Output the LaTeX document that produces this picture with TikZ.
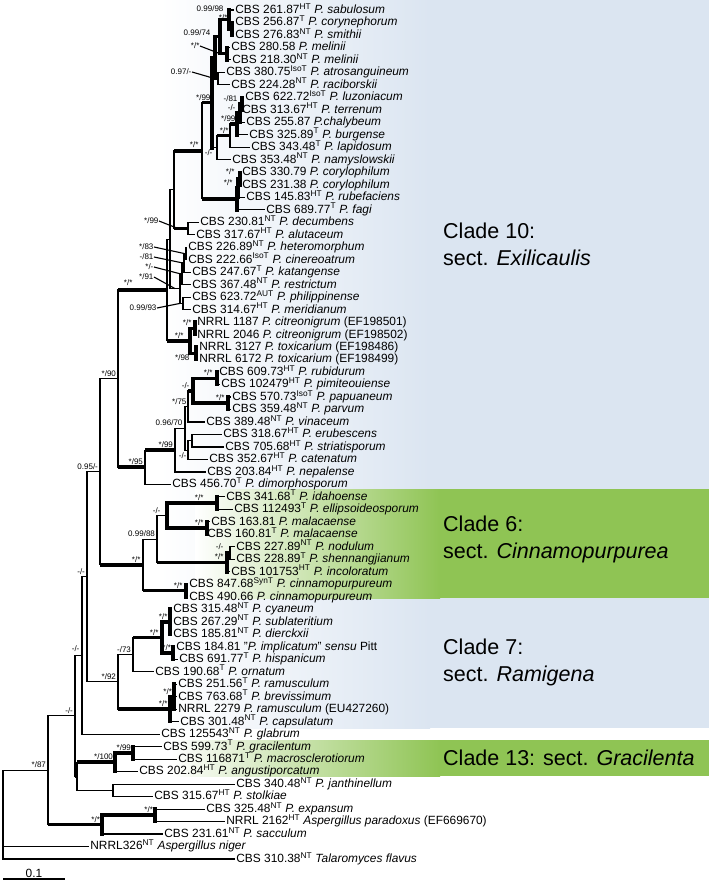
\documentclass[tikz,border=0pt]{standalone}
\usepackage{fontspec}
\setmainfont{Liberation Sans}
\usetikzlibrary{calc}
\definecolor{bl}{RGB}{219,229,241}
\definecolor{gr}{RGB}{143,196,84}
\newcommand\spx[1]{\textsuperscript{#1}}
\newcommand\tleaf[3]{\node[leaf] (L#1) at (#2,{10+(#1-1)*12.485}) {#3};}
\newcommand\tnode[5][vbr]{%
  \path let \p1=(#4), \p2=(#5) in coordinate (#2) at (#3bp,{0.5*\y1+0.5*\y2});%
  \draw[#1] (#2 |- #4) -- (#2 |- #5);}
\newcommand\tedge[3][hbr]{\draw[#1] (#2 |- #3) -- (#3);}
\newcommand\tsup[3][]{\node[sup,anchor=south east,#1] (s-#2) at ($(#2)+(-1.5,-1.5)$) {#3};}
\newcommand\tsupat[4][south east]{\node[sup,anchor=#1] (s-#2) at (#4) {#3};}
\newcommand\tlead[4]{\node[sup,anchor=east] (s-#1) at (#3) {#2}; \draw[ldr] (s-#1.east) -- #4;}
\begin{document}
\begin{tikzpicture}[x=1bp,y=-1bp,
  leaf/.style={anchor=west, inner sep=1.2bp, text height=9.2bp, text depth=2.4bp, font=\fontsize{11.9bp}{13bp}\selectfont},
  sup/.style={inner sep=0.4bp, text height=5.8bp, text depth=0.4bp, font=\fontsize{8bp}{9bp}\selectfont},
  vbr/.style={line width=1.1bp, line cap=rect},
  vthk/.style={line width=3.6bp, line cap=rect},
  hbr/.style={line width=1.1bp},
  hthk/.style={line width=3.6bp},
  ldr/.style={line width=1.1bp},
  clade/.style={anchor=base west, inner sep=0pt, font=\fontsize{21.5bp}{24bp}\selectfont}]
\useasboundingbox (0,0) rectangle (711,884);
% backgrounds
\shade[left color=white,right color=bl] (160,0) rectangle (430,728);
\fill[bl] (430,0) rectangle (709,728);
\shade[left color=white,right color=gr] (195,489) rectangle (440,598);
\fill[gr] (440,489) rectangle (709,598);
\shade[left color=white,right color=gr] (170,740) rectangle (440,776);
\fill[gr] (440,740) rectangle (709,776);
% clade names
\node[clade] (c10a) at (443,238) {Clade 10:};
\node[clade] (c10b) at (443,265) {sect. \textit{Exilicaulis}};
\node[clade] (c6a) at (443,531) {Clade 6:};
\node[clade] (c6b) at (443,558) {sect. \textit{Cinnamopurpurea}};
\node[clade] (c7a) at (443,654) {Clade 7:};
\node[clade] (c7b) at (443,681) {sect. \textit{Ramigena}};
\node[clade] (c13) at (443,765) {Clade 13: sect. \textit{Gracilenta}};
% leaves
\tleaf{1}{234}{CBS 261.87\spx{HT} \textit{P. sabulosum}}
\tleaf{2}{234}{CBS 256.87\spx{T} \textit{P. corynephorum}}
\tleaf{3}{234}{CBS 276.83\spx{NT} \textit{P. smithii}}
\tleaf{4}{230}{CBS 280.58 \textit{P. melinii}}
\tleaf{5}{231}{CBS 218.30\spx{NT} \textit{P. melinii}}
\tleaf{6}{225}{CBS 380.75\spx{IsoT} \textit{P. atrosanguineum}}
\tleaf{7}{230}{CBS 224.28\spx{NT} \textit{P. raciborskii}}
\tleaf{8}{244}{CBS 622.72\spx{IsoT} \textit{P. luzoniacum}}
\tleaf{9}{241}{CBS 313.67\spx{HT} \textit{P. terrenum}}
\tleaf{10}{245}{CBS 255.87 \textit{P.chalybeum}}
\tleaf{11}{248}{CBS 325.89\spx{T} \textit{P. burgense}}
\tleaf{12}{250}{CBS 343.48\spx{T} \textit{P. lapidosum}}
\tleaf{13}{231}{CBS 353.48\spx{NT} \textit{P. namyslowskii}}
\tleaf{14}{241}{CBS 330.79 \textit{P. corylophilum}}
\tleaf{15}{241}{CBS 231.38 \textit{P. corylophilum}}
\tleaf{16}{245}{CBS 145.83\spx{HT} \textit{P. rubefaciens}}
\tleaf{17}{265}{CBS 689.77\spx{T} \textit{P. fagi}}
\tleaf{18}{199}{CBS 230.81\spx{NT} \textit{P. decumbens}}
\tleaf{19}{195}{CBS 317.67\spx{HT} \textit{P. alutaceum}}
\tleaf{20}{187}{CBS 226.89\spx{NT} \textit{P. heteromorphum}}
\tleaf{21}{187}{CBS 222.66\spx{IsoT} \textit{P. cinereoatrum}}
\tleaf{22}{191}{CBS 247.67\spx{T} \textit{P. katangense}}
\tleaf{23}{191}{CBS 367.48\spx{NT} \textit{P. restrictum}}
\tleaf{24}{191}{CBS 623.72\spx{AUT} \textit{P. philippinense}}
\tleaf{25}{191}{CBS 314.67\spx{HT} \textit{P. meridianum}}
\tleaf{26}{196}{NRRL 1187 \textit{P. citreonigrum} (EF198501)}
\tleaf{27}{196}{NRRL 2046 \textit{P. citreonigrum} (EF198502)}
\tleaf{28}{198}{NRRL 3127 \textit{P. toxicarium} (EF198486)}
\tleaf{29}{198}{NRRL 6172 \textit{P. toxicarium} (EF198499)}
\tleaf{30}{218}{CBS 609.73\spx{HT} \textit{P. rubidurum}}
\tleaf{31}{220}{CBS 102479\spx{HT} \textit{P. pimiteouiense}}
\tleaf{32}{231}{CBS 570.73\spx{IsoT} \textit{P. papuaneum}}
\tleaf{33}{231}{CBS 359.48\spx{NT} \textit{P. parvum}}
\tleaf{34}{205}{CBS 389.48\spx{NT} \textit{P. vinaceum}}
\tleaf{35}{222}{CBS 318.67\spx{HT} \textit{P. erubescens}}
\tleaf{36}{224}{CBS 705.68\spx{HT} \textit{P. striatisporum}}
\tleaf{37}{208}{CBS 352.67\spx{HT} \textit{P. catenatum}}
\tleaf{38}{206}{CBS 203.84\spx{HT} \textit{P. nepalense}}
\tleaf{39}{171}{CBS 456.70\spx{T} \textit{P. dimorphosporum}}
\tleaf{40}{225}{CBS 341.68\spx{T} \textit{P. idahoense}}
\tleaf{41}{233}{CBS 112493\spx{T} \textit{P. ellipsoideosporum}}
\tleaf{42}{210}{CBS 163.81 \textit{P. malacaense}}
\tleaf{43}{206}{CBS 160.81\spx{T} \textit{P. malacaense}}
\tleaf{44}{235}{CBS 227.89\spx{NT} \textit{P. nodulum}}
\tleaf{45}{235}{CBS 228.89\spx{T} \textit{P. shennangjianum}}
\tleaf{46}{230}{CBS 101753\spx{HT} \textit{P. incoloratum}}
\tleaf{47}{188}{CBS 847.68\spx{SynT} \textit{P. cinnamopurpureum}}
\tleaf{48}{188}{CBS 490.66 \textit{P. cinnamopurpureum}}
\tleaf{49}{172}{CBS 315.48\spx{NT} \textit{P. cyaneum}}
\tleaf{50}{172}{CBS 267.29\spx{NT} \textit{P. sublateritium}}
\tleaf{51}{172}{CBS 185.81\spx{NT} \textit{P. dierckxii}}
\tleaf{52}{175}{CBS 184.81 "\textit{P. implicatum}" \textit{sensu} Pitt}
\tleaf{53}{178}{CBS 691.77\spx{T} \textit{P. hispanicum}}
\tleaf{54}{154}{CBS 190.68\spx{T} \textit{P. ornatum}}
\tleaf{55}{177}{CBS 251.56\spx{T} \textit{P. ramusculum}}
\tleaf{56}{177}{CBS 763.68\spx{T} \textit{P. brevissimum}}
\tleaf{57}{177}{NRRL 2279 \textit{P. ramusculum} (EU427260)}
\tleaf{58}{179}{CBS 301.48\spx{NT} \textit{P. capsulatum}}
\tleaf{59}{160}{CBS 125543\spx{NT} \textit{P. glabrum}}
\tleaf{60}{162}{CBS 599.73\spx{T} \textit{P. gracilentum}}
\tleaf{61}{177}{CBS 116871\spx{T} \textit{P. macrosclerotiorum}}
\tleaf{62}{138}{CBS 202.84\spx{HT} \textit{P. angustiporcatum}}
\tleaf{63}{235}{CBS 340.48\spx{NT} \textit{P. janthinellum}}
\tleaf{64}{153}{CBS 315.67\spx{HT} \textit{P. stolkiae}}
\tleaf{65}{205}{CBS 325.48\spx{NT} \textit{P. expansum}}
\tleaf{66}{225}{NRRL 2162\spx{HT} \textit{Aspergillus paradoxus} (EF669670)}
\tleaf{67}{163}{CBS 231.61\spx{NT} \textit{P. sacculum}}
\tleaf{68}{89}{NRRL326\spx{NT} \textit{Aspergillus niger}}
\tleaf{69}{235}{CBS 310.38\spx{NT} \textit{Talaromyces flavus}}
% internal nodes (vertical lines)
\tnode[vthk]{X1a}{232}{L2}{L3}
\tnode[vthk]{X1}{229}{L1}{X1a}
\tnode[vthk]{X2}{227}{L4}{L5}
\tnode[vthk]{X12}{220}{X1}{X2}
\tnode{X3}{218}{L6}{L7}
\tnode[vthk]{A10}{215}{X12}{X3}
\tnode[vthk]{b1}{242}{L8}{L9}
\tnode[vthk]{b2}{240}{b1}{L10}
\tnode[vthk]{b3}{237}{b2}{L11}
\tnode{b4}{230}{b3}{L12}
\tnode{W}{217}{b4}{L13}
\tnode[vthk]{T1}{212}{A10}{W}
\tnode[vthk]{C1}{240}{L14}{L15}
\tnode[vthk]{C2}{238}{C1}{L16}
\tnode[vthk]{T2}{237}{C2}{L17}
\tnode{T0}{202}{T1}{T2}
\tnode{DA}{188}{L18}{L19}
\tnode{J1}{174}{T0}{DA}
\tnode{n1}{186}{L20}{L21}
\tnode{n2}{184}{n1}{L22}
\tnode{n3}{182}{n2}{L23}
\tnode{PM}{183}{L24}{L25}
\tnode{n4}{180}{n3}{PM}
\tnode{J}{170}{J1}{n4}
\tnode[vthk]{CIT}{195}{L26}{L27}
\tnode[vthk]{TOX}{196}{L28}{L29}
\tnode[vthk]{K}{190}{CIT}{TOX}
\tnode{I}{167}{J}{K}
\tnode[vthk]{RP}{217}{L30}{L31}
\tnode[vthk]{PP}{228}{L32}{L33}
\tnode[vthk]{RPPP}{193}{RP}{PP}
\tnode{Q75}{188}{RPPP}{L34}
\tnode{ES}{192}{L35}{L36}
\tnode{ESC}{188}{ES}{L37}
\tnode{Q96}{185}{Q75}{ESC}
\tnode{H1}{175}{Q96}{L38}
\tnode{H}{145}{H1}{L39}
\tnode{G}{118}{I}{H}
\tnode[vthk]{I6}{217}{L40}{L41}
\tnode[vthk]{M6}{207}{L42}{L43}
\tnode[vthk]{IM}{167}{I6}{M6}
\tnode{NS1}{230}{L44}{L45}
\tnode[vthk]{NS}{227}{NS1}{L46}
\tnode{F6a}{157}{IM}{NS}
\tnode[vthk]{CIN}{186}{L47}{L48}
\tnode{F6}{143}{F6a}{CIN}
\tnode{E}{100}{G}{F6}
\tnode[vthk]{R7a2}{170}{L49}{L51}
\tnode[vthk]{R7a3}{173}{L52}{L53}
\tnode[vthk]{R7a1}{162}{R7a2}{R7a3}
\tnode{R7a}{133}{R7a1}{L54}
\tnode[vthk]{R7b1}{174}{L55}{L57}
\tnode[vthk]{R7b}{170}{R7b1}{L58}
\tnode{R7}{118}{R7a}{R7b}
\tnode{D}{87}{E}{R7}
\tnode{C}{82}{D}{L59}
\tnode[vthk]{GRA1}{133}{L60}{L61}
\tnode[vthk]{GRA}{115}{GRA1}{L62}
\tnode{JAN}{113}{L63}{L64}
\tnode{B}{77}{GRA}{JAN}
\tnode{A}{75}{C}{B}
\tnode[vthk]{EXP1}{155}{L65}{L66}
\tnode[vthk]{EXP}{102}{EXP1}{L67}
\tnode{ING}{48}{A}{EXP}
\tnode{R}{3}{ING}{L69}
% edges (horizontal branches)
\tedge{X1a}{L2}\tedge{X1a}{L3}\tedge{X1}{L1}\tedge[hthk]{X1}{X1a}
\tedge{X2}{L4}\tedge{X2}{L5}\tedge[hthk]{X12}{X1}\tedge[hthk]{X12}{X2}
\tedge{X3}{L6}\tedge{X3}{L7}\tedge[hthk]{A10}{X12}\tedge{A10}{X3}
\tedge{b1}{L8}\tedge{b1}{L9}\tedge[hthk]{b2}{b1}\tedge{b2}{L10}
\tedge[hthk]{b3}{b2}\tedge{b3}{L11}\tedge[hthk]{b4}{b3}\tedge{b4}{L12}
\tedge[hthk]{W}{b4}\tedge{W}{L13}\tedge[hthk]{T1}{A10}\tedge{T1}{W}
\tedge{C1}{L14}\tedge{C1}{L15}\tedge[hthk]{C2}{C1}\tedge{C2}{L16}
\tedge[hthk]{T2}{C2}\tedge{T2}{L17}\tedge[hthk]{T0}{T1}\tedge[hthk]{T0}{T2}
\tedge{DA}{L18}\tedge{DA}{L19}\tedge[hthk]{J1}{T0}\tedge[hthk]{J1}{DA}
\tedge{n1}{L20}\tedge{n1}{L21}\tedge{n2}{n1}\tedge{n2}{L22}
\tedge{n3}{n2}\tedge{n3}{L23}\tedge{PM}{L24}\tedge{PM}{L25}
\tedge{n4}{n3}\tedge{n4}{PM}\tedge{J}{J1}\tedge{J}{n4}
\tedge{CIT}{L26}\tedge{CIT}{L27}\tedge{TOX}{L28}\tedge{TOX}{L29}
\tedge[hthk]{K}{CIT}\tedge[hthk]{K}{TOX}\tedge{I}{J}\tedge[hthk]{I}{K}
\tedge{RP}{L30}\tedge{RP}{L31}\tedge{PP}{L32}\tedge{PP}{L33}
\tedge[hthk]{RPPP}{RP}\tedge[hthk]{RPPP}{PP}\tedge[hthk]{Q75}{RPPP}\tedge{Q75}{L34}
\tedge{ES}{L35}\tedge{ES}{L36}\tedge{ESC}{ES}\tedge{ESC}{L37}
\tedge{Q96}{Q75}\tedge{Q96}{ESC}\tedge{H1}{Q96}\tedge{H1}{L38}
\tedge[hthk]{H}{H1}\tedge{H}{L39}\tedge[hthk]{G}{I}\tedge[hthk]{G}{H}
\tedge{I6}{L40}\tedge{I6}{L41}\tedge{M6}{L42}\tedge{M6}{L43}
\tedge[hthk]{IM}{I6}\tedge[hthk]{IM}{M6}
\tedge{NS1}{L44}\tedge{NS1}{L45}\tedge{NS}{NS1}\tedge{NS}{L46}
\tedge{F6a}{IM}\tedge[hthk]{F6a}{NS}
\tedge{CIN}{L47}\tedge{CIN}{L48}\tedge{F6}{F6a}\tedge[hthk]{F6}{CIN}
\tedge{E}{G}\tedge[hthk]{E}{F6}
\tedge{R7a2}{L49}\tedge{R7a2}{L50}\tedge{R7a2}{L51}
\tedge{R7a3}{L52}\tedge{R7a3}{L53}
\tedge[hthk]{R7a1}{R7a2}\tedge[hthk]{R7a1}{R7a3}
\tedge[hthk]{R7a}{R7a1}\tedge{R7a}{L54}
\tedge{R7b1}{L55}\tedge{R7b1}{L56}\tedge{R7b1}{L57}
\tedge[hthk]{R7b}{R7b1}\tedge{R7b}{L58}
\tedge{R7}{R7a}\tedge[hthk]{R7}{R7b}
\tedge{D}{E}\tedge{D}{R7}\tedge{C}{D}\tedge{C}{L59}
\tedge{GRA1}{L60}\tedge{GRA1}{L61}\tedge[hthk]{GRA}{GRA1}\tedge{GRA}{L62}
\tedge{JAN}{L63}\tedge{JAN}{L64}\tedge[hthk]{B}{GRA}\tedge{B}{JAN}
\tedge{A}{C}\tedge[hthk]{A}{B}
\tedge{EXP1}{L65}\tedge{EXP1}{L66}\tedge[hthk]{EXP}{EXP1}\tedge{EXP}{L67}
\tedge{ING}{A}\tedge[hthk]{ING}{EXP}
\tedge{R}{ING}\tedge{R}{L68}\tedge{R}{L69}
% support values
\tsupat{X1}{0.99/98}{224,12}
\tsupat{X1a}{*/*}{228,21}
\tsupat{X12}{0.99/74}{211,36}
\tlead{X2}{*/*}{200,46}{(X12 |- X2)}
\tlead{X3}{0.97/-}{192,72}{(A10 |- X3)}
\tsupat{T1}{*/99}{211,101}
\tsupat{b1}{-/81}{238,102}
\tsupat{b2}{-/-}{236,111}
\tsupat{b3}{*/99}{236,122}
\tsupat{b4}{*/*}{229,134}
\tsupat[north east]{W}{-/-}{213,149.5}
\tsupat{T0}{*/*}{199,148.5}
\tsupat{C1}{*/*}{235,175}
\tsupat{C2}{*/*}{233,186}
\tlead{DA}{*/99}{159,221}{($(J1 |- DA)+(4,0)$)}
\tlead{n1}{*/83}{154,247}{(n2 |- n1)}
\tlead{n2}{-/81}{154,257}{(n3 |- n2)}
\tlead{n3}{*/-}{154,267}{(n4 |- n3)}
\tlead{n4}{*/91}{154,277}{($(J |- n4)+(5,0)$)}
\tlead{PM}{0.99/93}{157,308}{(n4 |- PM)}
\tsupat{I}{*/*}{133,286.5}
\tsupat{CIT}{*/*}{192,326.5}
\tsupat{K}{*/*}{184,339}
\tsupat[north east]{TOX}{*/98}{190,354.5}
\tsup{G}{*/90}
\tsupat{RP}{*/*}{213,376.5}
\tsupat{RPPP}{-/-}{190,389}
\tsupat{PP}{*/*}{225,401.5}
\tsupat{Q75}{*/75}{187,405}
\tsupat{Q96}{0.96/70}{183,426}
\tsup{H1}{*/99}
\tsupat[north east]{ESC}{-/-}{187,452}
\tsup{H}{*/95}
\tsup{E}{0.95/-}
\tsupat{I6}{*/*}{204,501.5}
\tsupat{IM}{-/-}{161,514}
\tsupat{M6}{*/*}{204,526.5}
\tsup{F6a}{0.99/88}
\tsupat{NS1}{-/-}{224,550}
\tsupat{NS}{*/*}{224,560}
\tsupat{F6}{*/*}{141,563.4}
\tsup{D}{-/-}
\tsupat{CIN}{*/*}{183,589}
\tsupat{R7a2}{*/*}{168,620}
\tsupat{R7a1}{*/*}{159,636}
\tsup{R7a3}{*/*}
\tsupat{C}{-/-}{80,652.5}
\tsup{R7a}{-/73}
\tsup{R7}{*/92}
\tsup{R7b1}{*/*}
\tsupat{R7b}{*/*}{168,707.7}
\tsup{A}{-/-}
\tsup{GRA1}{*/99}
\tsup{GRA}{*/100}
\tsup{ING}{*/87}
\tsup{EXP1}{*/*}
\tsup{EXP}{*/*}
% scale bar
\coordinate (sb1) at (3,879);
\coordinate (sb2) at (65,879);
\draw[line width=1.6bp] (sb1) -- (sb2);
\node[font=\fontsize{11.9bp}{13bp}\selectfont, anchor=south, inner sep=1bp] (sbl) at ($(sb1)!0.5!(sb2)$) {0.1};
\end{tikzpicture}
\end{document}
